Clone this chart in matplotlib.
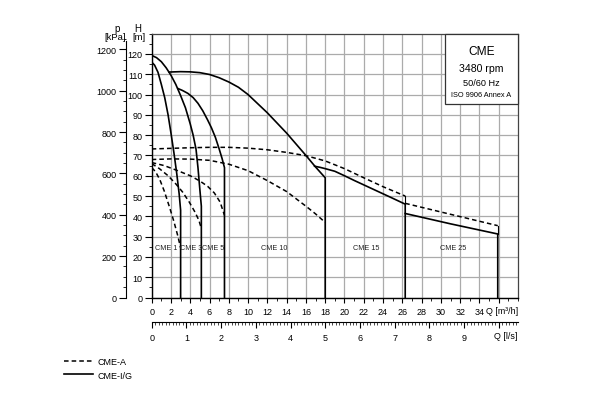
import matplotlib
matplotlib.use('Agg')
import matplotlib.pyplot as plt
import numpy as np
from matplotlib.ticker import MultipleLocator
from matplotlib.patches import Rectangle

plt.rcParams['font.family'] = ['Liberation Sans', 'DejaVu Sans']

# --- кривые CME-I/G (сплошные), Q [m3/h], H [m]
q_cme1 = [0, 0.3, 0.65, 1.0, 1.35, 1.7, 2.0, 2.3, 2.6, 2.85, 3.0]
h_cme1 = [116, 114.5, 111, 105, 98.5, 90, 81, 71.5, 61, 51, 43]
q_cme3 = [0, 0.5, 1.0, 1.5, 2.0, 2.5, 3.0, 3.5, 4.0, 4.3, 4.6, 4.8, 5.0, 5.15]
h_cme3 = [119.3, 118.2, 116.2, 113.2, 109.5, 105, 99.5, 93.5, 85.5, 80, 73, 64, 53, 45]
q_cme5 = [2.72, 3.2, 3.75, 4.3, 4.8, 5.3, 5.8, 6.2, 6.6, 7.0, 7.3, 7.55]
h_cme5 = [103, 102, 100.6, 98.5, 95.7, 92, 87.5, 83.6, 79, 73.2, 68.5, 64]
q_cme10 = [1.8, 3, 4, 5, 6, 7, 8, 9, 10, 11, 12, 13, 14, 15, 16, 17, 18]
h_cme10 = [111.1, 111.3, 111.2, 110.8, 109.9, 108.3, 106.2, 103.6, 100, 95.5, 91, 86, 81,
           75.5, 70, 64.3, 59]
q_cme15 = [16.9, 17.5, 18, 19, 20, 21, 22, 23, 24, 25, 26.3]
h_cme15 = [64.7, 64.1, 63.5, 62.2, 60, 57.7, 55.5, 53.3, 51.1, 48.9, 46]
q_cme25 = [26.3, 31.0, 35.9]
h_cme25 = [41.4, 36.3, 31.3]

# --- кривые CME-A (пунктир)
q_cme1a = [0, 0.4, 0.85, 1.3, 1.85, 2.3, 2.7, 3.0]
h_cme1a = [64, 62, 58, 52.5, 44.5, 37.5, 30.5, 24.5]
q_cme3a = [0, 0.8, 1.7, 2.5, 3.2, 3.9, 4.5, 4.9, 5.15]
h_cme3a = [66, 63.5, 60, 56, 52, 47, 42, 38, 34]
q_cme5a = [0, 1.3, 2.7, 4.0, 5.0, 5.8, 6.5, 7.1, 7.55]
h_cme5a = [66.5, 65, 62.5, 60, 57.4, 54.8, 51.5, 47, 40.5]
q_cme10a = [0, 2, 4, 6, 8, 10, 12, 14, 16, 17, 18]
h_cme10a = [68, 68.3, 68.2, 67.6, 65.7, 62.5, 57.6, 52.2, 45, 41.2, 37]
q_cme15a = [0, 2, 4, 6, 8, 10, 12, 14, 16, 18, 20, 22, 24, 26.3]
h_cme15a = [73.2, 73.5, 73.8, 74, 74, 73.6, 72.8, 71.5, 69.9, 67.3, 63.5, 59, 54.6, 50]
q_cme25a = [26.3, 31.0, 35.9]
h_cme25a = [46.4, 41, 35.4]

labels = ['CME 1', 'CME 3', 'CME 5', 'CME 10', 'CME 15', 'CME 25']
label_q = [1.46, 4.05, 6.34, 12.75, 22.2, 31.3]

W, H = 592, 402


def fx(px):
    return px / W


def fy(py):
    return 1 - py / H


fig = plt.figure(figsize=(W / 100, H / 100), dpi=100)
x0, x1, y0, y1 = 151.7, 518, 34.7, 298.5
ax = fig.add_axes([fx(x0), fy(y1), (x1 - x0) / W, (y1 - y0) / H])

ax.set_xlim(0, 38)
ax.set_ylim(0, 130)
ax.set_xticks(np.arange(0, 37, 2))
ax.set_xticklabels([str(v) for v in range(0, 35, 2)] + [''])
ax.xaxis.set_minor_locator(MultipleLocator(1))
ax.set_yticks(np.arange(0, 121, 10))
ax.yaxis.set_minor_locator(MultipleLocator(5))
ax.tick_params(axis='x', which='major', length=3.5, width=0.8, labelsize=6.5, pad=3.5)
ax.tick_params(axis='x', which='minor', length=2, width=0.6)
ax.tick_params(axis='y', which='major', length=5, width=0.8, labelsize=6.5, pad=1.5)
ax.tick_params(axis='y', which='minor', length=2.5, width=0.6)
ax.grid(True, which='major', color='#ababab', lw=0.9)
ax.set_axisbelow(True)
for s in ['top', 'right']:
    ax.spines[s].set_color('#444444')
    ax.spines[s].set_linewidth(0.9)
for s in ['left', 'bottom']:
    ax.spines[s].set_linewidth(1.0)

solid = dict(color='black', lw=1.2, solid_joinstyle='round')
dash = dict(color='black', lw=1.1, ls=(0, (3, 2)))

# сплошные кривые с вертикальным спуском до нуля
for q, h in [(q_cme1, h_cme1), (q_cme3, h_cme3), (q_cme5, h_cme5),
             (q_cme10, h_cme10), (q_cme15, h_cme15), (q_cme25, h_cme25)]:
    ax.plot(list(q) + [q[-1]], list(h) + [0], **solid, zorder=3)

for q, h in [(q_cme1a, h_cme1a), (q_cme3a, h_cme3a), (q_cme5a, h_cme5a),
             (q_cme10a, h_cme10a), (q_cme15a, h_cme15a), (q_cme25a, h_cme25a)]:
    ax.plot(q, h, **dash, zorder=3)

# тонкие перемычки на концах CME 15 / CME 25
ax.plot([q_cme15a[-1], q_cme15a[-1]], [h_cme15a[-1], h_cme15[-1]], color='black', lw=0.8, zorder=3)
ax.plot([q_cme25a[-1], q_cme25a[-1]], [h_cme25a[-1], h_cme25[-1]], color='black', lw=0.8, zorder=3)

for lab, q in zip(labels, label_q):
    ax.text(q, 24.5, lab, ha='center', va='center', fontsize=5.2, color='#222222', zorder=4)

# рамка с подписью
ax.add_patch(Rectangle((30.4, 95.3), 38 - 30.4, 130 - 95.3, facecolor='white',
                       edgecolor='#333333', lw=0.9, zorder=5, clip_on=False))
ax.text(34.2, 121.4, 'CME', ha='center', va='center', fontsize=8.6, zorder=6)
ax.text(34.2, 113.1, '3480 rpm', ha='center', va='center', fontsize=7.6, zorder=6)
ax.text(34.2, 106.0, '50/60 Hz', ha='center', va='center', fontsize=6.6, zorder=6)
ax.text(34.2, 99.8, 'ISO 9906 Annex A', ha='center', va='center', fontsize=5.3, zorder=6)

# ось давления p [kPa]
axp = ax.twinx()
axp.set_ylim(0, 130 * 9.81)
axp.spines['left'].set_position(('outward', 26 * 0.72))
axp.spines['left'].set_visible(True)
axp.spines['left'].set_bounds(0, 1240)
for s in ['right', 'top', 'bottom']:
    axp.spines[s].set_visible(False)
axp.yaxis.set_ticks_position('left')
axp.set_yticks(np.arange(0, 1201, 200))
axp.yaxis.set_minor_locator(MultipleLocator(50))
axp.tick_params(axis='y', which='major', length=5, width=0.8, labelsize=6.5, pad=1.5)
axp.tick_params(axis='y', which='minor', length=2.5, width=0.6)

# ось расхода Q [l/s]
axq = ax.twiny()
axq.set_xlim(0, 38 / 3.6)
axq.xaxis.set_ticks_position('bottom')
axq.spines['bottom'].set_position(('outward', 24 * 0.72))
axq.spines['bottom'].set_visible(True)
for s in ['right', 'top', 'left']:
    axq.spines[s].set_visible(False)
axq.set_xticks(np.arange(0, 11, 1))
axq.set_xticklabels([str(v) for v in range(0, 10)] + [''])
axq.xaxis.set_minor_locator(MultipleLocator(0.1))
axq.tick_params(axis='x', which='major', length=4, width=0.8, labelsize=6.5, pad=4)
axq.tick_params(axis='x', which='minor', length=2, width=0.5)

fig.text(fx(518), fy(312), 'Q [m³/h]', ha='right', va='center', fontsize=6.4)
fig.text(fx(518), fy(337), 'Q [l/s]', ha='right', va='center', fontsize=6.4)
fig.text(fx(117), fy(28.5), 'p', ha='center', va='center', fontsize=7)
fig.text(fx(115.5), fy(37), '[kPa]', ha='center', va='center', fontsize=6.8)
fig.text(fx(138), fy(28.5), 'H', ha='center', va='center', fontsize=7)
fig.text(fx(138.5), fy(37), '[m]', ha='center', va='center', fontsize=6.8)

# легенда
la, = ax.plot([], [], **dash)
ls_, = ax.plot([], [], **solid)
fig.legend([la, ls_], ['CME-A', 'CME-I/G'], loc='upper left',
           bbox_to_anchor=(fx(64), fy(358)), frameon=False, fontsize=6.5,
           handlelength=3.2, handletextpad=0.5, labelspacing=0.5,
           borderpad=0, borderaxespad=0)

fig.savefig('out.png', dpi=100)
